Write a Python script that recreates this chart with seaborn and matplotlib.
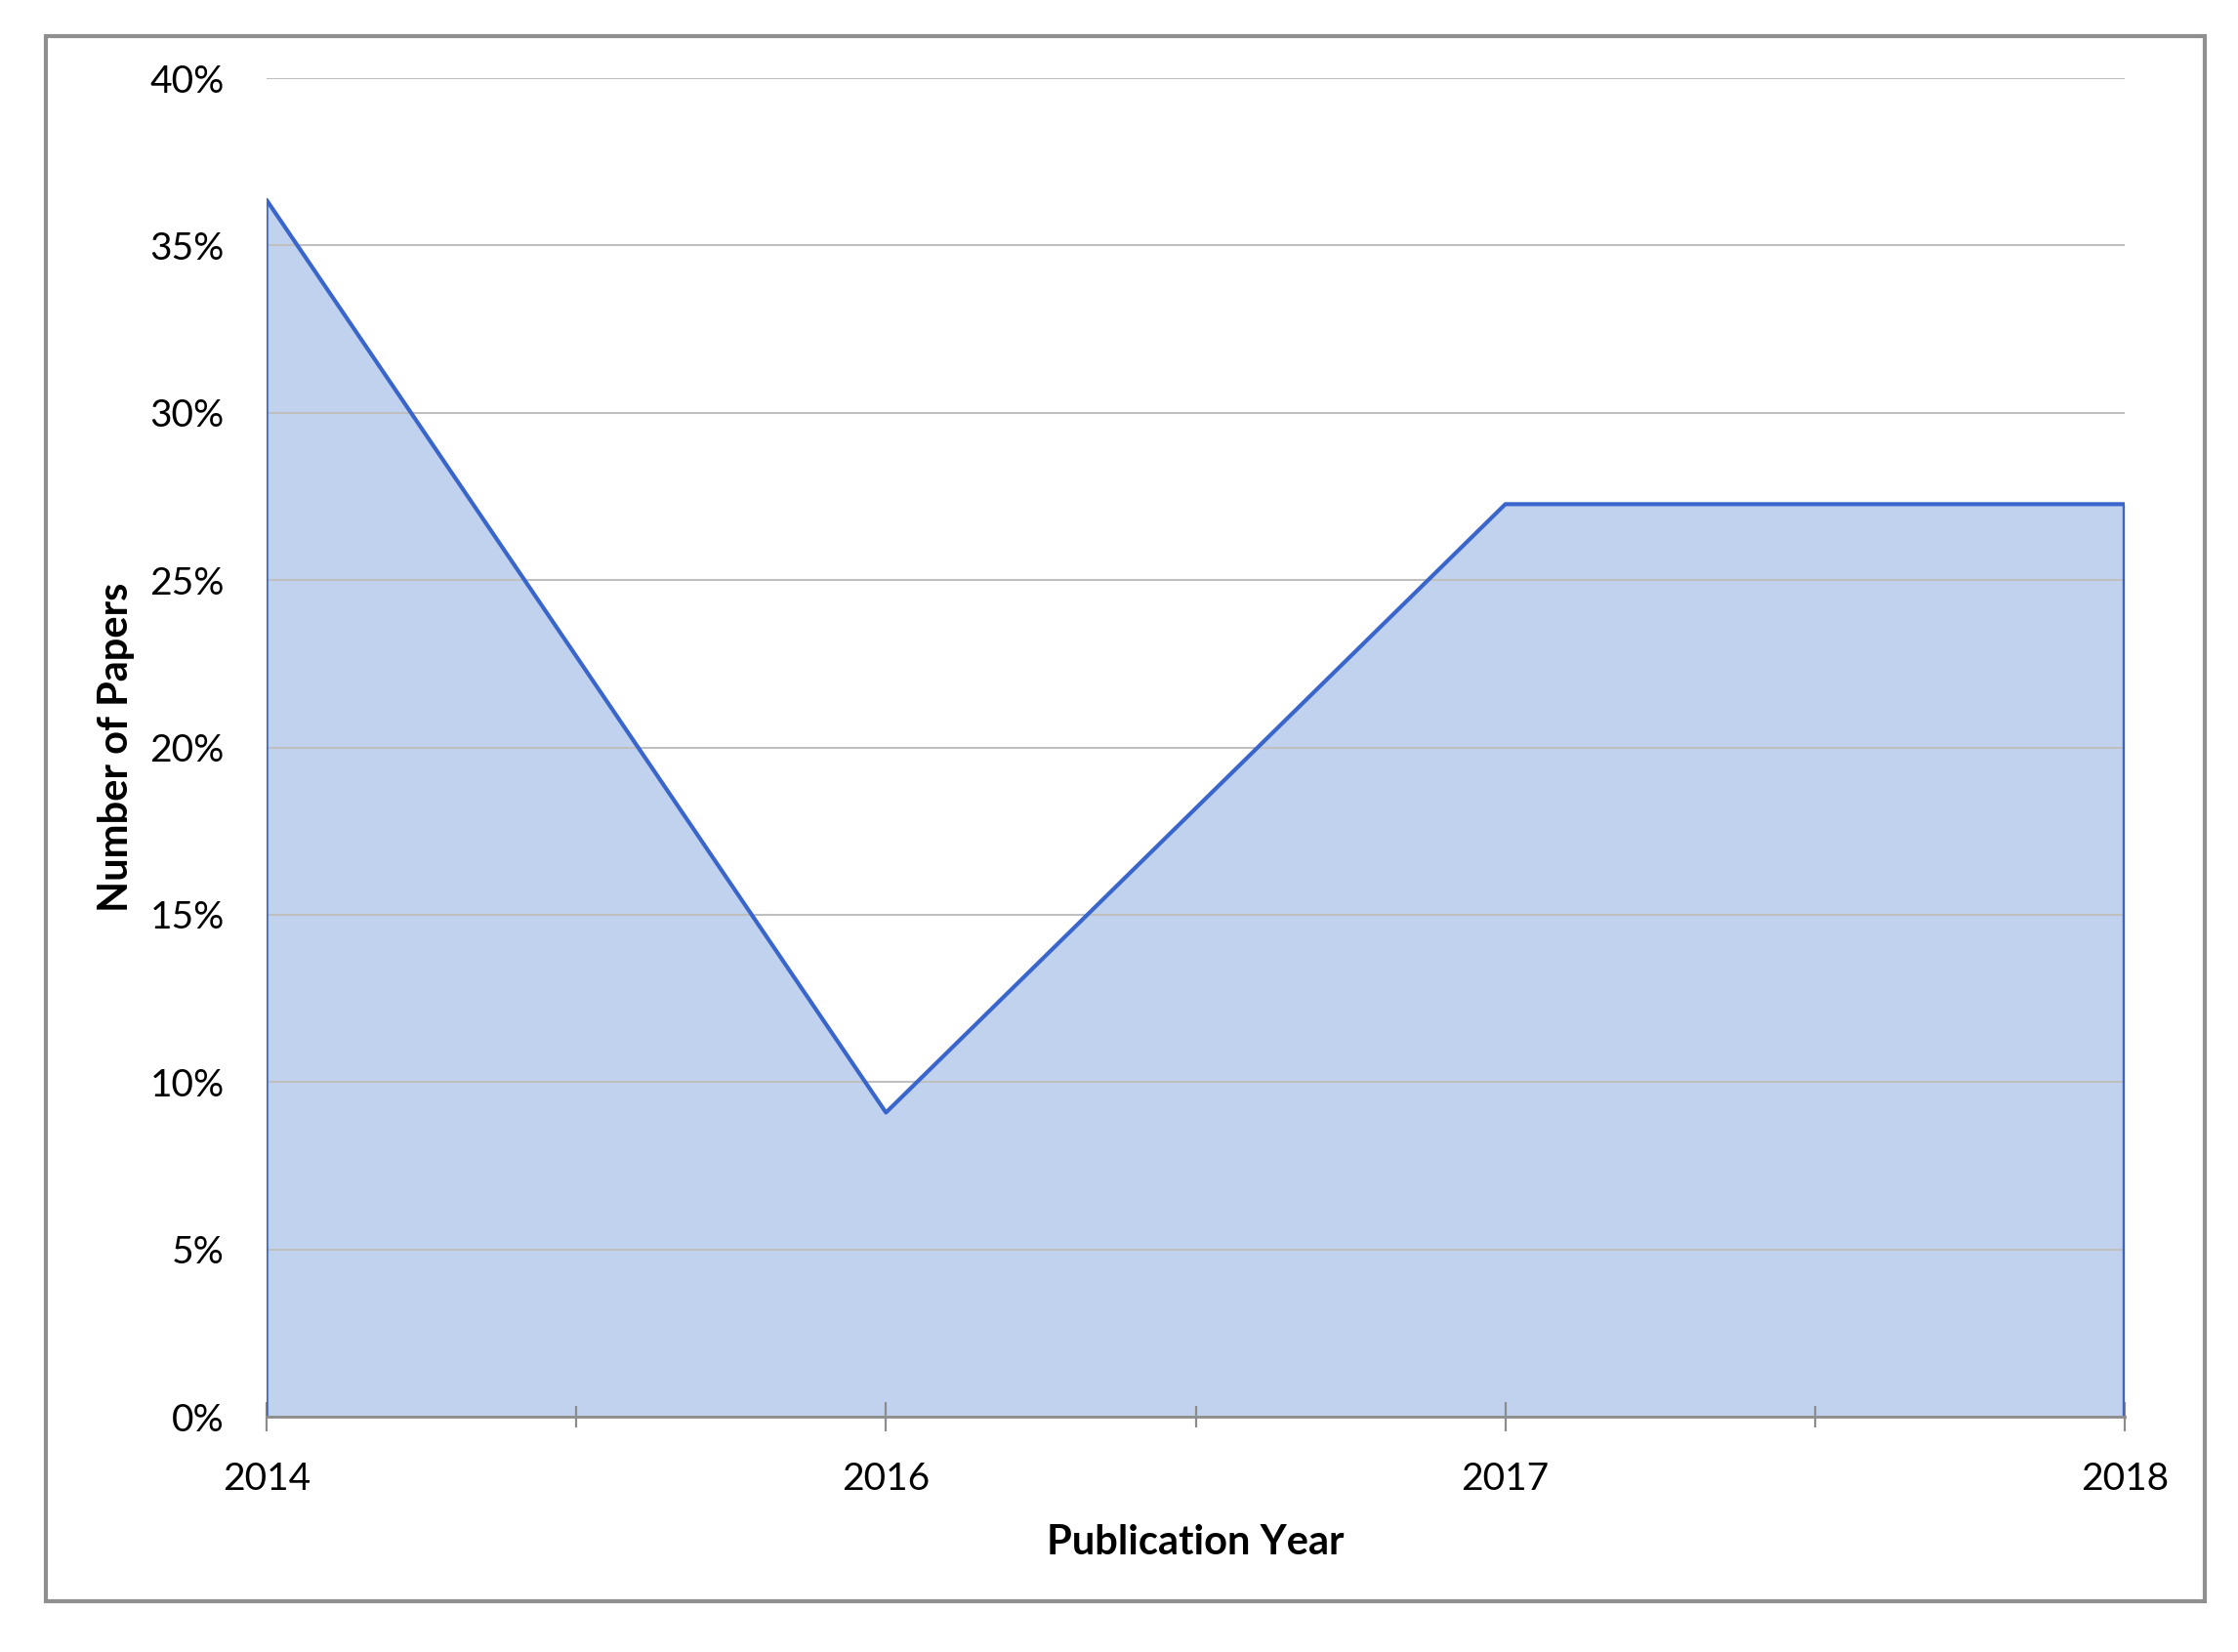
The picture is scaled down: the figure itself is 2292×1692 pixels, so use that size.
import matplotlib.pyplot as plt
import matplotlib.ticker as mticker
from matplotlib.patches import Rectangle
import seaborn as sns

# Share of papers per publication year
years = ["2014", "2016", "2017", "2018"]
share = [0.3636, 0.0909, 0.2727, 0.2727]

sns.set_theme(style="white")
plt.rcParams["font.family"] = ["Lato", "DejaVu Sans"]

line_blue = "#3A66CC"
fill_blue = "#C1D2EF"
grey = "#8C8C8C"

fig = plt.figure(figsize=(22.92, 16.92), dpi=100)
ax = fig.add_axes([0.1191, 0.1424, 0.8303, 0.8103])

pos = list(range(len(years)))

# Area fill under the series
ax.fill_between(pos, share, 0, color=fill_blue, linewidth=0, zorder=1)
sns.lineplot(x=pos, y=share, color=line_blue, linewidth=3.0, ax=ax, zorder=3)
# edges of the area at both ends
ax.vlines([pos[0], pos[-1]], 0, [share[0], share[-1]], colors=line_blue,
          linewidth=[1.8, 3.2], zorder=3)

ax.set_xlim(0, len(years) - 1)
ax.set_ylim(0, 0.40)
ax.yaxis.set_major_locator(mticker.MultipleLocator(0.05))
ax.yaxis.set_major_formatter(mticker.PercentFormatter(1.0, decimals=0))
ax.set_xticks(pos, years)
ax.set_xticks([p + 0.5 for p in pos[:-1]], minor=True)

# Grid lines
ax.grid(axis="y", color="#BFBFBF", linewidth=1.5, zorder=2)
ax.set_axisbelow(False)
for gl in ax.get_ygridlines():
    gl.set_zorder(2)

for side in ["top", "left", "right"]:
    ax.spines[side].set_visible(False)
ax.spines["bottom"].set_color(grey)
ax.spines["bottom"].set_linewidth(2)
ax.spines["bottom"].set_zorder(4)

ax.tick_params(axis="x", which="major", direction="inout", length=22, width=1.6,
               color=grey, pad=22, labelsize=28, labelcolor="black", bottom=True)
ax.tick_params(axis="x", which="minor", direction="inout", length=16, width=1.6,
               color=grey, bottom=True)
ax.tick_params(axis="y", length=0, pad=31, labelsize=28, labelcolor="black")

ax.set_xlabel("Publication Year", fontsize=30, fontweight="bold", color="black", labelpad=20)
ax.set_ylabel("Number of Papers", fontsize=30, fontweight="bold", color="black", labelpad=11)

# Outer chart border
fig.patches.append(Rectangle((47 / 2292, 1 - 1640 / 1692), (2258 - 47) / 2292,
                             (1640 - 37) / 1692, transform=fig.transFigure,
                             fill=False, edgecolor="#8F8F8F", linewidth=3))

fig.savefig("out.png", dpi=100, facecolor="white")
